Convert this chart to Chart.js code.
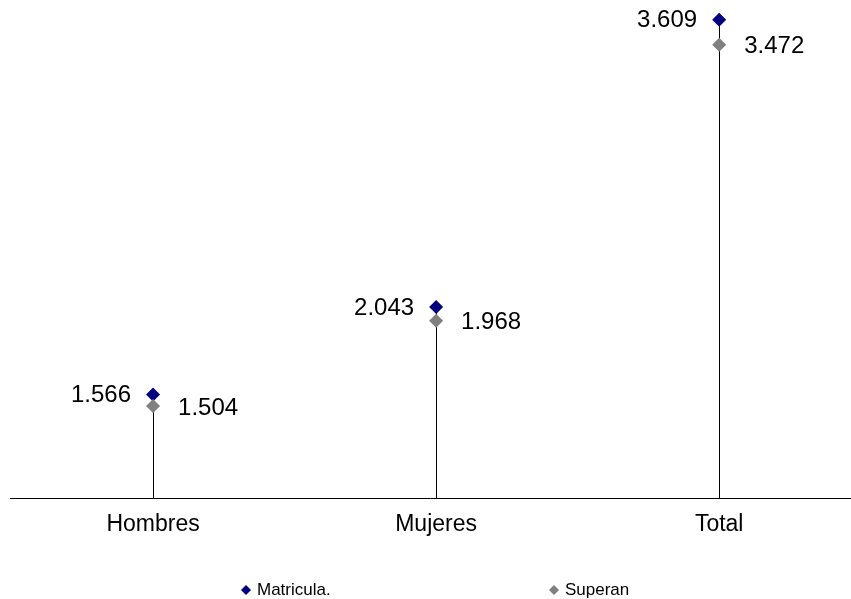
<!DOCTYPE html>
<html>
<head>
<meta charset="utf-8">
<script src="https://cdn.jsdelivr.net/npm/chart.js@4/dist/chart.umd.min.js"></script>
<style>
  html, body { margin: 0; padding: 0; background: #fff; }
  #wrap { width: 851px; height: 599px; position: relative; }
</style>
</head>
<body>
<div id="wrap"><canvas id="c" width="851" height="599"></canvas></div>
<script>
const categories = ['Hombres', 'Mujeres', 'Total'];
const matricula = [1566, 2043, 3609];
const superan = [1504, 1968, 3472];
const seriesNames = ['Matricula.', 'Superan'];
const seriesColors = ['#000080', '#808080'];

const FONT = '"Liberation Sans", Arial, sans-serif';

function fmt(v) {
  return String(v).replace(/\B(?=(\d{3})+(?!\d))/g, '.');
}

const dropLines = {
  id: 'dropLines',
  beforeDatasetsDraw(chart) {
    const {ctx, scales: {x, y}} = chart;
    const bottom = Math.round(y.getPixelForValue(y.min)) + 0.5;
    ctx.save();
    ctx.strokeStyle = '#000';
    ctx.lineWidth = 1;
    // category axis baseline, running to the right edge
    ctx.beginPath();
    ctx.moveTo(x.left, bottom);
    ctx.lineTo(chart.width, bottom);
    ctx.stroke();
    categories.forEach((c, i) => {
      const px = Math.round(x.getPixelForValue(i)) + 0.5;
      const top = y.getPixelForValue(Math.max(matricula[i], superan[i]));
      ctx.beginPath();
      ctx.moveTo(px, top);
      ctx.lineTo(px, bottom);
      ctx.stroke();
    });
    ctx.restore();
  }
};

const valueLabels = {
  id: 'valueLabels',
  afterDatasetsDraw(chart) {
    const {ctx, scales: {x, y}} = chart;
    ctx.save();
    ctx.font = '24px ' + FONT;
    ctx.fillStyle = '#000';
    ctx.textBaseline = 'middle';
    categories.forEach((c, i) => {
      const px = x.getPixelForValue(i);
      ctx.textAlign = 'right';
      ctx.fillText(fmt(matricula[i]), px - 22, y.getPixelForValue(matricula[i]) + 1);
      ctx.textAlign = 'left';
      ctx.fillText(fmt(superan[i]), px + 25, y.getPixelForValue(superan[i]) + 2);
    });
    ctx.restore();
  }
};

const customLegend = {
  id: 'customLegend',
  afterDraw(chart) {
    const {ctx} = chart;
    const cy = 590;
    const items = [{cx: 246, tx: 257}, {cx: 554, tx: 565}];
    ctx.save();
    ctx.font = '17px ' + FONT;
    ctx.textBaseline = 'middle';
    ctx.textAlign = 'left';
    items.forEach((it, i) => {
      const r = 5;
      ctx.fillStyle = seriesColors[i];
      ctx.beginPath();
      ctx.moveTo(it.cx, cy - r);
      ctx.lineTo(it.cx + r, cy);
      ctx.lineTo(it.cx, cy + r);
      ctx.lineTo(it.cx - r, cy);
      ctx.closePath();
      ctx.fill();
      ctx.fillStyle = '#000';
      ctx.fillText(seriesNames[i], it.tx, cy);
    });
    ctx.restore();
  }
};

new Chart(document.getElementById('c'), {
  type: 'scatter',
  data: {
    datasets: [
      {
        label: seriesNames[0],
        data: categories.map((c, i) => ({x: i, y: matricula[i]})),
        pointStyle: 'rectRot',
        pointRadius: 7,
        pointHoverRadius: 7,
        backgroundColor: seriesColors[0],
        borderColor: seriesColors[0],
        borderWidth: 0,
        order: 1,
        clip: false
      },
      {
        label: seriesNames[1],
        data: categories.map((c, i) => ({x: i, y: superan[i]})),
        pointStyle: 'rectRot',
        pointRadius: 7,
        pointHoverRadius: 7,
        backgroundColor: seriesColors[1],
        borderColor: seriesColors[1],
        borderWidth: 0,
        order: 0,
        clip: false
      }
    ]
  },
  options: {
    responsive: false,
    animation: false,
    layout: { padding: { top: 2, left: 10, right: 0, bottom: 49 } },
    plugins: {
      legend: { display: false },
      tooltip: { enabled: false }
    },
    scales: {
      x: {
        type: 'linear',
        min: -0.5053,
        max: 2.441,
        afterBuildTicks(scale) {
          scale.ticks = categories.map((c, i) => ({value: i}));
        },
        ticks: {
          callback: (v) => categories[v] ?? '',
          font: { size: 23, family: FONT },
          color: '#000',
          padding: 12,
          maxRotation: 0,
          autoSkip: false
        },
        grid: { display: false, drawTicks: false },
        border: { display: false }
      },
      y: {
        display: false,
        min: 1000,
        max: 3678
      }
    }
  },
  plugins: [dropLines, valueLabels, customLegend]
});
</script>
</body>
</html>
